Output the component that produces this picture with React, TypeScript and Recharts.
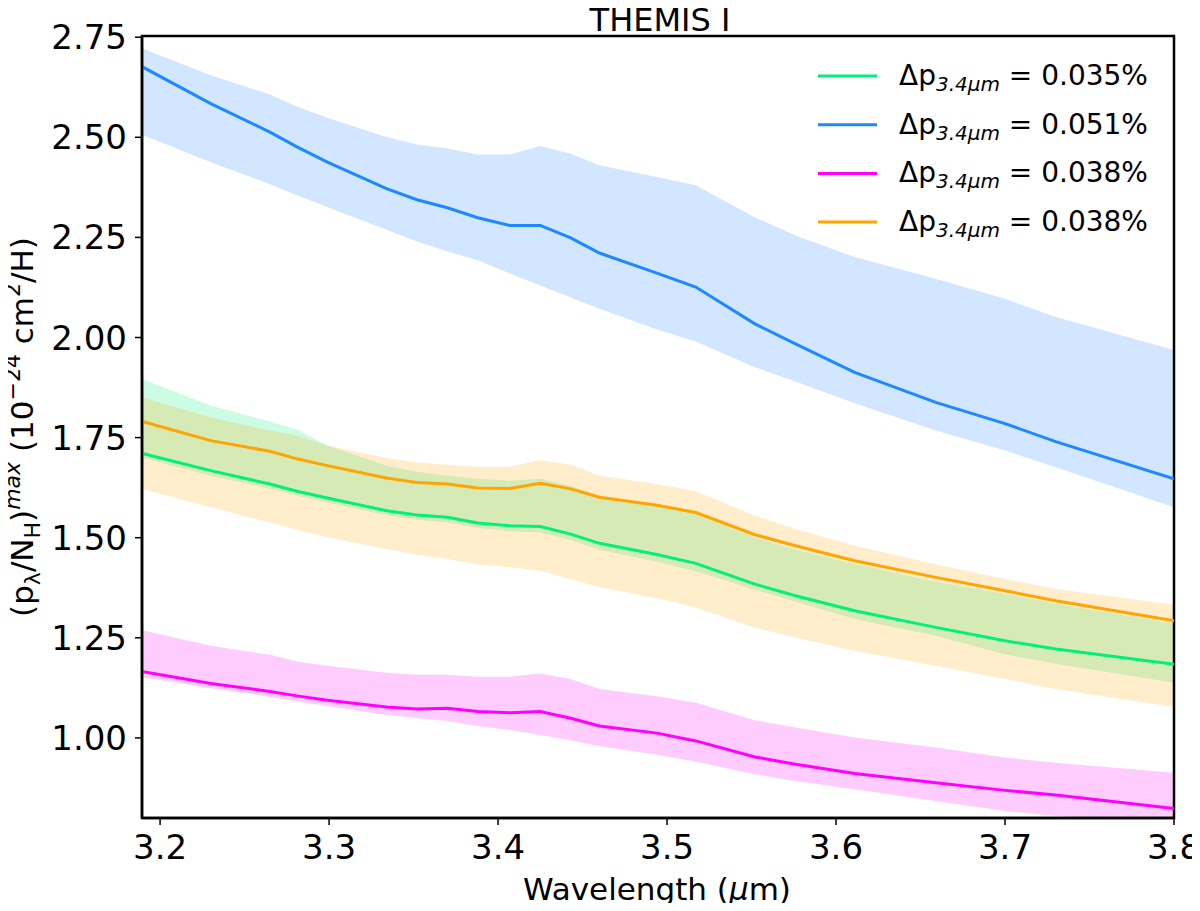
import React from "react";
import { ComposedChart, Area, Line, XAxis, YAxis, ReferenceArea } from "recharts";

// wavelength grid (micron)
const wavelength = [3.189, 3.23, 3.265, 3.281, 3.299, 3.334, 3.352, 3.37, 3.388, 3.407, 3.425, 3.443, 3.46, 3.494, 3.517, 3.552, 3.576, 3.611, 3.659, 3.7, 3.73, 3.8];

const greenMid = [1.711, 1.6675, 1.634, 1.616, 1.599, 1.5675, 1.557, 1.551, 1.537, 1.53, 1.528, 1.509, 1.486, 1.458, 1.436, 1.384, 1.355, 1.3175, 1.276, 1.2425, 1.222, 1.184];
const greenHi = [1.897, 1.83, 1.79, 1.77, 1.73, 1.68, 1.665, 1.655, 1.647, 1.6425, 1.647, 1.63, 1.605, 1.58, 1.56, 1.5, 1.47, 1.435, 1.39, 1.36, 1.335, 1.285];
const greenLo = [1.7, 1.655, 1.622, 1.605, 1.588, 1.556, 1.545, 1.538, 1.524, 1.516, 1.513, 1.494, 1.47, 1.44, 1.416, 1.37, 1.34, 1.297, 1.255, 1.209, 1.185, 1.138];

const blueMid = [2.677, 2.584, 2.513, 2.476, 2.438, 2.372, 2.344, 2.324, 2.299, 2.28, 2.28, 2.249, 2.211, 2.161, 2.126, 2.034, 1.984, 1.913, 1.838, 1.785, 1.74, 1.647];
const blueHi = [2.722, 2.655, 2.607, 2.577, 2.549, 2.501, 2.482, 2.472, 2.457, 2.457, 2.478, 2.459, 2.43, 2.401, 2.38, 2.3, 2.255, 2.201, 2.147, 2.097, 2.051, 1.969];
const blueLo = [2.507, 2.438, 2.383, 2.355, 2.326, 2.269, 2.24, 2.215, 2.193, 2.16, 2.13, 2.1, 2.072, 2.02, 1.99, 1.926, 1.89, 1.836, 1.7675, 1.7175, 1.676, 1.576];

const magentaMid = [1.166, 1.136, 1.116, 1.105, 1.094, 1.0775, 1.0725, 1.074, 1.066, 1.063, 1.066, 1.049, 1.03, 1.012, 0.9925, 0.9525, 0.934, 0.911, 0.888, 0.869, 0.8575, 0.824];
const magentaHi = [1.269, 1.23, 1.2075, 1.191, 1.18, 1.163, 1.1575, 1.1575, 1.1525, 1.1525, 1.161, 1.147, 1.122, 1.104, 1.088, 1.044, 1.026, 1.001, 0.976, 0.951, 0.938, 0.913];
const magentaLo = [1.1525, 1.124, 1.1025, 1.091, 1.08, 1.0575, 1.05, 1.0425, 1.03, 1.02, 1.0075, 0.994, 0.98, 0.958, 0.941, 0.909, 0.8925, 0.872, 0.8425, 0.8175, 0.805, 0.785];

const orangeMid = [1.791, 1.7425, 1.716, 1.697, 1.68, 1.649, 1.638, 1.634, 1.624, 1.623, 1.636, 1.622, 1.601, 1.581, 1.563, 1.5075, 1.48, 1.4425, 1.401, 1.3675, 1.3425, 1.2925];
const orangeHi = [1.851, 1.8, 1.768, 1.755, 1.73, 1.699, 1.688, 1.682, 1.6775, 1.6775, 1.694, 1.6825, 1.655, 1.634, 1.616, 1.555, 1.522, 1.48, 1.434, 1.397, 1.372, 1.3325];
const orangeLo = [1.622, 1.576, 1.538, 1.52, 1.501, 1.472, 1.4575, 1.447, 1.434, 1.426, 1.4175, 1.397, 1.376, 1.349, 1.326, 1.276, 1.251, 1.2175, 1.18, 1.147, 1.122, 1.0775];

const legendValues = ["0.035%", "0.051%", "0.038%", "0.038%"];
const xTicks = [3.2, 3.3, 3.4, 3.5, 3.6, 3.7, 3.8];
const yTicks = [1.0, 1.25, 1.5, 1.75, 2.0, 2.25, 2.5, 2.75];

const series = [
  { key: "green", color: "#00f07a" },
  { key: "blue", color: "#1e88ff" },
  { key: "magenta", color: "#ff00ff" },
  { key: "orange", color: "#ffa500" },
];

const data = wavelength.map((w, i) => ({
  w,
  green: greenMid[i],
  greenBand: [greenLo[i], greenHi[i]],
  blue: blueMid[i],
  blueBand: [blueLo[i], blueHi[i]],
  magenta: magentaMid[i],
  magentaBand: [magentaLo[i], magentaHi[i]],
  orange: orangeMid[i],
  orangeBand: [orangeLo[i], orangeHi[i]],
}));

const W = 1200;
const H = 903;
const X_MIN = 3.1893;
const X_MAX = 3.8;
const Y_MIN = 0.8;
const Y_MAX = 2.753;
const FONT = "DejaVu Sans, sans-serif";

export default function App() {
  // wrapper pulled over the body margin so chart coords == page coords
  return (
    <div style={{ position: "relative", width: W, height: H, margin: "-8px 0 0 -8px", fontFamily: FONT }}>
      <style>{`.recharts-surface { overflow: visible; }`}</style>
      <ComposedChart
        width={W}
        height={898}
        data={data}
        margin={{ top: 36, right: 26, bottom: 0, left: 0 }}
      >
        <XAxis
          dataKey="w"
          type="number"
          domain={[X_MIN, X_MAX]}
          ticks={xTicks}
          interval={0}
          allowDataOverflow
          tickFormatter={(v) => v.toFixed(1)}
          height={80}
          tickSize={7}
          tickMargin={10}
          tick={{ fontSize: 34, fill: "#000", fontFamily: FONT }}
          axisLine={{ stroke: "#000", strokeWidth: 2.5 }}
          tickLine={{ stroke: "#000", strokeWidth: 1.5 }}
        />
        <YAxis
          type="number"
          domain={[Y_MIN, Y_MAX]}
          ticks={yTicks}
          interval={0}
          allowDataOverflow
          tickFormatter={(v) => v.toFixed(2)}
          width={142}
          tickSize={7}
          tickMargin={8}
          tick={{ fontSize: 34, fill: "#000", fontFamily: FONT }}
          axisLine={{ stroke: "#000", strokeWidth: 2.5 }}
          tickLine={{ stroke: "#000", strokeWidth: 1.5 }}
        />
        {series.map((s) => (
          <Area
            key={s.key + "Band"}
            type="linear"
            dataKey={s.key + "Band"}
            stroke="none"
            fill={s.color}
            fillOpacity={0.2}
            isAnimationActive={false}
            activeDot={false}
          />
        ))}
        {series.map((s) => (
          <Line
            key={s.key}
            type="linear"
            dataKey={s.key}
            stroke={s.color}
            strokeWidth={3}
            dot={false}
            activeDot={false}
            isAnimationActive={false}
          />
        ))}
        <ReferenceArea
          x1={X_MIN}
          x2={X_MAX}
          y1={Y_MIN}
          y2={Y_MAX}
          fill="none"
          stroke="#000"
          strokeWidth={2.5}
          ifOverflow="visible"
        />
      </ComposedChart>

      <svg
        width={W}
        height={H}
        style={{ position: "absolute", left: 0, top: 0, overflow: "visible", pointerEvents: "none" }}
        fontFamily={FONT}
      >
        <text x={660} y={31} textAnchor="middle" fontSize={32} fill="#000">
          THEMIS I
        </text>
        <text x={657} y={900} textAnchor="middle" fontSize={31} fill="#000">
          Wavelength (<tspan fontStyle="italic">μ</tspan>m)
        </text>
        <text transform="translate(33, 427) rotate(-90)" textAnchor="middle" fontSize={31} fill="#000">
          (p
          <tspan dy={7} fontSize={22}>λ</tspan>
          <tspan dy={-7}>/N</tspan>
          <tspan dy={7} fontSize={22}>H</tspan>
          <tspan dy={-7}>)</tspan>
          <tspan dy={-13} fontSize={22} fontStyle="italic">max</tspan>
          <tspan dy={13}>{" (10"}</tspan>
          <tspan dy={-13} fontSize={22}>−24</tspan>
          <tspan dy={13}>{" cm"}</tspan>
          <tspan dy={-13} fontSize={22}>2</tspan>
          <tspan dy={13}>/H)</tspan>
        </text>
        {series.map((s, i) => {
          const y = 76 + i * 48.7;
          return (
            <g key={s.key}>
              <line x1={818} x2={877} y1={y} y2={y} stroke={s.color} strokeWidth={3} />
              <text x={899} y={y + 9} fontSize={28} fill="#000">
                Δp
                <tspan dy={6} fontSize={20} fontStyle="italic">3.4μm</tspan>
                <tspan dy={-6}>{" = " + legendValues[i]}</tspan>
              </text>
            </g>
          );
        })}
      </svg>
    </div>
  );
}
